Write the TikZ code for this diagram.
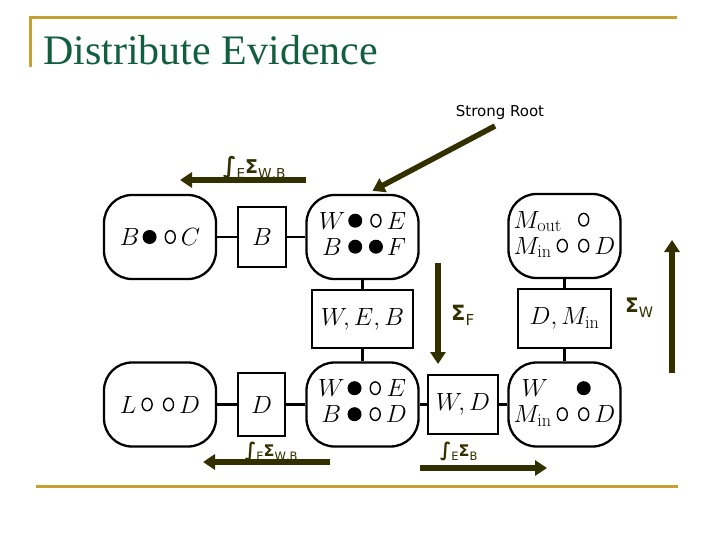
\documentclass[tikz,border=0pt]{standalone}
\usepackage{fontspec}
\usepackage{tikz}
\usetikzlibrary{arrows.meta}
\newfontfamily\titlefont{Liberation Serif}
\newfontfamily\lblfont{DejaVu Sans}
\definecolor{slidegold}{RGB}{198, 160, 48}
\definecolor{titlegreen}{RGB}{18, 95, 64}
\definecolor{arrowolive}{RGB}{51, 48, 0}

\newcommand{\nodefont}{\fontsize{26}{26}\selectfont}
\newcommand{\fdot}{\kern3pt\tikz[baseline={(0pt,-8.5pt)}]\fill[black] (0pt,0pt) circle [radius=7pt];\kern3pt}
\newcommand{\edot}{\kern5pt\tikz[baseline={(0pt,-8.5pt)}]\draw[black, line width=1.4pt] (0pt,0pt) circle [x radius=5pt, y radius=6.3pt];\kern5pt}
\newcommand{\lsub}[1]{\raisebox{-0.25em}{\scalebox{0.72}{\mdseries #1}}}
\newcommand{\lint}{\scalebox{1.15}[1.2]{∫}}
\newcommand{\cliquerows}[2]{\begin{tabular}{@{}c@{}c@{}c@{}c@{}}#1\\#2\end{tabular}}

\begin{document}
\begin{tikzpicture}[x=1pt, y=-1pt,
    clique/.style={draw, line width=2.3pt, rounded corners=28pt,
      minimum width=112pt, minimum height=84pt, inner sep=0pt, font=\nodefont},
    sepbox/.style={draw, line width=2pt, minimum height=59pt,
      inner sep=0pt, font=\nodefont},
    link/.style={line width=2.4pt},
    flow/.style={draw=arrowolive, line width=5.5pt,
      -{Triangle[length=12pt, width=15pt]}},
    flowlab/.style={text=arrowolive, anchor=base west, inner sep=0pt}]
  \fill[white] (0,0) rectangle (720,540);
  \useasboundingbox (0,0) rectangle (720,540);

  % ---- Slide frame and title ----
  \draw[slidegold, line width=3pt] (30,67) -- (30,18) -- (677,18);
  \draw[slidegold, line width=3pt] (36,486) -- (678,486);
  \node[anchor=base west, inner sep=0pt, text=titlegreen,
        font=\titlefont\fontsize{42}{42}\selectfont] (title) at (43,65)
    {Distribute Evidence};

  % ---- Cliques ----
  \node[clique] (bc) at (160,237) {$B$\fdot\edot$C$};
  \node[clique] (we) at (362.5,237)
    {\cliquerows{$W$ & \fdot & \edot & $E$}{$B$ & \fdot & \fdot & $F$}};
  \node[clique] (mo) at (564.5,236)
    {\begin{tabular}{@{}l@{}c@{}l@{}}
       $M_{\mathrm{out}}$ & \edot & \\
       $M_{\mathrm{in}}$\edot & \edot & $D$
     \end{tabular}};
  \node[clique] (lod) at (160,404.5) {$L$\edot\edot$D$};
  \node[clique] (wd) at (362.5,404.5)
    {\cliquerows{$W$ & \fdot & \edot & $E$}{$B$ & \fdot & \edot & $D$}};
  \node[clique] (wm) at (564.5,404.5)
    {\begin{tabular}{@{}l@{}c@{}l@{}}
       \kern8pt$W$ & \fdot & \\
       $M_{\mathrm{in}}$\edot & \edot & $D$
     \end{tabular}};

  % ---- Separators ----
  \node[sepbox, minimum width=48pt] (sb) at (262,237) {$B$};
  \node[sepbox, minimum width=101pt, minimum height=58pt] (web) at (362.5,319) {$W, E, B$};
  \node[sepbox, minimum width=93pt] (sdm) at (564.5,318.5) {$D, M_{\mathrm{in}}$};
  \node[sepbox, minimum width=47pt, minimum height=63pt] (sd) at (261.5,404.5) {$D$};
  \node[sepbox, minimum width=70pt] (swd) at (463,404.5) {$W, D$};

  \draw[link] (bc) -- (sb);
  \draw[link] (sb) -- (we);
  \draw[link] (we) -- (web);
  \draw[link] (web) -- (wd);
  \draw[link] (lod) -- (sd);
  \draw[link] (sd) -- (wd);
  \draw[link] (wd) -- (swd);
  \draw[link] (swd) -- (wm);
  \draw[link] (wm) -- (sdm);
  \draw[link] (sdm) -- (mo);

  % ---- Message passing ----
  \node[inner sep=0pt, font=\lblfont\fontsize{15}{15}\selectfont] (root) at (500,112) {Strong Root};
  \coordinate (roottail) at (495,126);
  \draw[flow] (roottail) -- ([xshift=10pt, yshift=3pt]we.north);

  \coordinate (topA) at (306,180);
  \coordinate (topB) at (180,180);
  \draw[flow] (topA) -- (topB);
  \node[flowlab, font=\lblfont\bfseries\fontsize{19}{19}\selectfont] (labtop) at (223,174)
    {\lint\lsub{E}Σ\lsub{W,B}};

  \coordinate (fA) at (438,263);
  \coordinate (fB) at (438,364);
  \draw[flow] (fA) -- (fB);
  \node[flowlab, font=\lblfont\bfseries\fontsize{21}{21}\selectfont] (labf) at (451,320)
    {Σ\lsub{F}};

  \coordinate (wA) at (672,373);
  \coordinate (wB) at (672,240);
  \draw[flow] (wA) -- (wB);
  \node[flowlab, font=\lblfont\bfseries\fontsize{20}{20}\selectfont] (labw) at (625,312)
    {Σ\lsub{W}};

  \coordinate (blA) at (330,462);
  \coordinate (blB) at (203,462);
  \draw[flow] (blA) -- (blB);
  \node[flowlab, font=\lblfont\bfseries\fontsize{16}{16}\selectfont] (labbl) at (245,456)
    {\lint\lsub{E}Σ\lsub{W,B}};

  \coordinate (brA) at (420,468);
  \coordinate (brB) at (547,468);
  \draw[flow] (brA) -- (brB);
  \node[flowlab, font=\lblfont\bfseries\fontsize{16}{16}\selectfont] (labbr) at (440,456)
    {\lint\lsub{E}Σ\lsub{B}};
\end{tikzpicture}
\end{document}
